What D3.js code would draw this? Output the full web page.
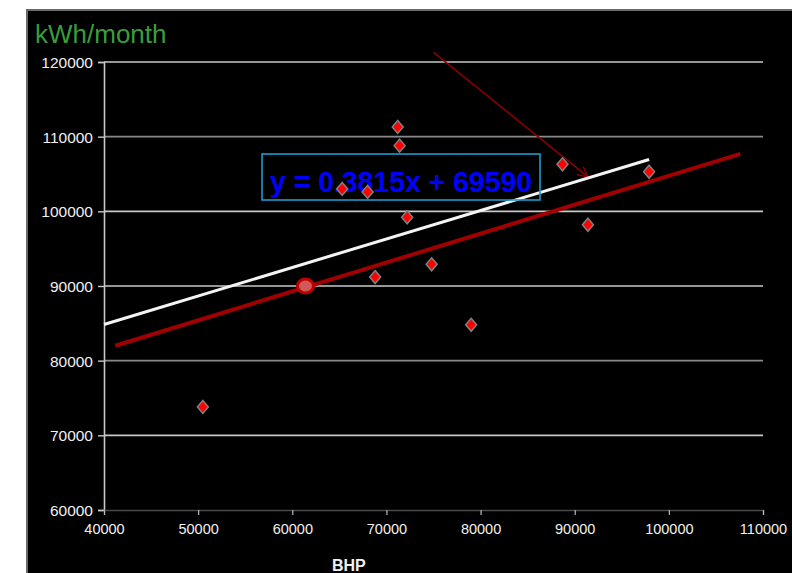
<!DOCTYPE html>
<html><head><meta charset="utf-8">
<script src="https://cdn.jsdelivr.net/npm/d3@7"></script>
<style>html,body{margin:0;padding:0;background:#fff;overflow:hidden}</style>
</head><body>
<svg id="c" width="792" height="573"></svg>
<script>
// ---- data ----
const bhp = [50500, 65300, 68000, 71200, 71400, 72200, 68800, 74800, 79000, 88700, 91400, 97900];
const kwh = [73800, 103000, 102600, 111300, 108800, 99200, 91200, 92900, 84800, 106300, 98200, 105300];
const xTicks = [40000, 50000, 60000, 70000, 80000, 90000, 100000, 110000];
const yTicks = [60000, 70000, 80000, 90000, 100000, 110000, 120000];
const trendSlope = 0.3815, trendIntercept = 69590;
const trendRange = [40000, 97900];
const redLineX = [41200, 107600];
const redLineY = [82000, 107700];
const highlight = [61400, 90000];
const arrowFrom = [75000, 121300];
const arrowTo = [91400, 104600];
const eqText = "y = 0.3815x + 69590";
const yTitle = "kWh/month";
const xTitle = "BHP";

const svg = d3.select("#c");
const x = d3.scaleLinear().domain([40000, 110000]).range([104, 763]);
const y = d3.scaleLinear().domain([60000, 120000]).range([510, 62]);

// panel
svg.append("rect").attr("x", 27).attr("y", 10).attr("width", 800).attr("height", 600)
  .attr("fill", "#000").attr("stroke", "#6a6a6a").attr("stroke-width", 2);

// gridlines
svg.append("g").selectAll("line").data(yTicks.filter(d => d > 60000)).join("line")
  .attr("x1", x(40000)).attr("x2", x(110000))
  .attr("y1", d => y(d)).attr("y2", d => y(d))
  .attr("stroke", (d, i) => (d === 110000 || d === 80000) ? "#8a8a8a" : "#c8c8c8")
  .attr("stroke-width", 1.6);

// y axis
const ya = svg.append("g").attr("transform", `translate(${x(40000)},0)`)
  .call(d3.axisLeft(y).tickValues(yTicks).tickFormat(d3.format("d")).tickSize(6).tickPadding(6));
ya.select(".domain").attr("stroke", "#c8c8c8").attr("stroke-width", 1.6);
ya.selectAll(".tick line").attr("stroke", "#c8c8c8").attr("stroke-width", 1.4);
ya.selectAll("text").attr("fill", "#f0f0f0").attr("font-family", "Liberation Sans, Arial, sans-serif")
  .attr("font-size", 15.5).attr("x", -11).attr("dy", "0.35em");

// x axis
const xa = svg.append("g").attr("transform", `translate(0,${y(60000)})`)
  .call(d3.axisBottom(x).tickValues(xTicks).tickFormat(d3.format("d")).tickSize(5).tickPadding(9));
xa.select(".domain").attr("stroke", "#4a4a4a").attr("stroke-width", 1.4);
xa.selectAll(".tick line").attr("stroke", "#bbbbbb").attr("stroke-width", 1.2);
xa.selectAll("text").attr("fill", "#f0f0f0").attr("font-family", "Liberation Sans, Arial, sans-serif")
  .attr("font-size", 14.5);

// titles
svg.append("text").attr("x", 35).attr("y", 43).text(yTitle)
  .attr("fill", "#3a9d3a").attr("font-family", "Liberation Sans, Arial, sans-serif")
  .attr("font-size", 26);
svg.append("text").attr("x", x(66000)).attr("y", 571).attr("text-anchor", "middle").text(xTitle)
  .attr("fill", "#f0f0f0").attr("font-family", "Liberation Sans, Arial, sans-serif")
  .attr("font-weight", "bold").attr("font-size", 16);

// arrow annotation
const defs = svg.append("defs");
defs.append("marker").attr("id", "ah").attr("viewBox", "0 0 12 12").attr("refX", 11).attr("refY", 6)
  .attr("markerWidth", 12).attr("markerHeight", 12).attr("markerUnits", "userSpaceOnUse").attr("orient", "auto")
  .append("path").attr("d", "M1,1 L11,6 L1,11").attr("fill", "none").attr("stroke", "#8b0000").attr("stroke-width", 1.5);
svg.append("line").attr("x1", x(arrowFrom[0])).attr("y1", y(arrowFrom[1]))
  .attr("x2", x(arrowTo[0])).attr("y2", y(arrowTo[1]))
  .attr("stroke", "#8b0000").attr("stroke-width", 1.6).attr("marker-end", "url(#ah)");

// red reference line
svg.append("line").attr("x1", x(redLineX[0])).attr("y1", y(redLineY[0]))
  .attr("x2", x(redLineX[1])).attr("y2", y(redLineY[1]))
  .attr("stroke", "#a00000").attr("stroke-width", 4);

// trendline
svg.append("line").attr("x1", x(trendRange[0])).attr("y1", y(trendSlope * trendRange[0] + trendIntercept))
  .attr("x2", x(trendRange[1])).attr("y2", y(trendSlope * trendRange[1] + trendIntercept))
  .attr("stroke", "#f4f4f4").attr("stroke-width", 3);

// highlight circle
svg.append("ellipse").attr("cx", x(highlight[0])).attr("cy", y(highlight[1]))
  .attr("rx", 8).attr("ry", 7).attr("fill", "#d05a5a").attr("stroke", "#c00000").attr("stroke-width", 3);

// equation box
svg.append("rect").attr("x", 262).attr("y", 154).attr("width", 278).attr("height", 46)
  .attr("fill", "none").attr("stroke", "#1a9ccf").attr("stroke-width", 1.6);
svg.append("text").attr("x", 270).attr("y", 192).text(eqText)
  .attr("fill", "#0000ff").attr("font-family", "Liberation Sans Narrow, Liberation Sans, Arial, sans-serif")
  .attr("font-weight", "bold").attr("font-size", 29)
  .attr("textLength", 262).attr("lengthAdjust", "spacingAndGlyphs");

// points
svg.append("g").selectAll("path").data(bhp.map((b, i) => [b, kwh[i]])).join("path")
  .attr("transform", d => `translate(${x(d[0])},${y(d[1])})`)
  .attr("d", "M0,-6.5 L5.5,0 L0,6.5 L-5.5,0 Z")
  .attr("fill", "#ff0000").attr("stroke", "#808080").attr("stroke-width", 1.5);
</script>
</body></html>
